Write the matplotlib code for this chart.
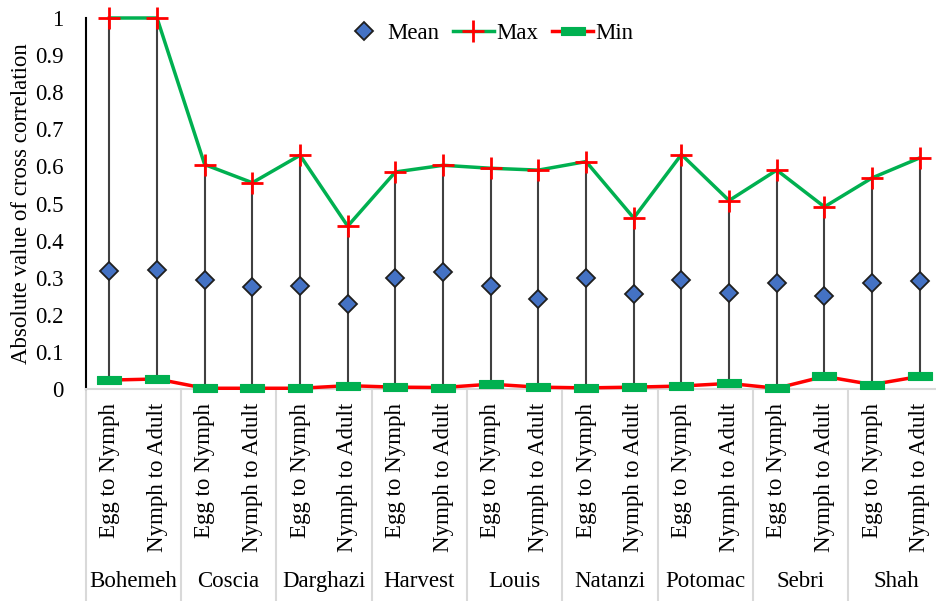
"""
Cross correlation (absolute value) per cultivar and life stage transition:
mean, max and min with high-low lines.
"""

import matplotlib
matplotlib.use("Agg")
import matplotlib.pyplot as plt
from matplotlib.lines import Line2D

plt.rcParams['font.family'] = ['Liberation Serif', 'DejaVu Serif']

groups = ["Bohemeh", "Coscia", "Darghazi", "Harvest", "Louis",
          "Natanzi", "Potomac", "Sebri", "Shah"]
stages = ["Egg to Nymph", "Nymph to Adult"]

mean_vals = [0.317, 0.320, 0.295, 0.274, 0.278, 0.229, 0.299, 0.315, 0.278,
             0.243, 0.299, 0.256, 0.293, 0.259, 0.286, 0.252, 0.286, 0.292]
max_vals = [1.000, 1.000, 0.605, 0.556, 0.630, 0.439, 0.585, 0.603, 0.595,
            0.590, 0.613, 0.461, 0.632, 0.508, 0.590, 0.491, 0.569, 0.623]
min_vals = [0.024, 0.027, 0.002, 0.002, 0.002, 0.009, 0.005, 0.004, 0.013,
            0.005, 0.003, 0.005, 0.008, 0.015, 0.002, 0.034, 0.012, 0.034]

FS = 16.5
labels = [s for g in groups for s in stages]
x = list(range(len(labels)))

fig = plt.figure(figsize=(9.36, 6.01), dpi=100)
ax = fig.add_axes([85.5 / 936, 1 - 389 / 601, (943.6 - 85.5) / 936, 371 / 601])

#high-low lines
ax.vlines(x, min_vals, max_vals, color='#404040', lw=1.5, zorder=2)

ax.plot(x, mean_vals, linestyle='none', marker='D', markersize=9.5,
        markerfacecolor='#4472C4', markeredgecolor='#1F1F1F',
        markeredgewidth=1.3, label='Mean', zorder=4, clip_on=False)
ax.plot(x, max_vals, color='#00B050', lw=2.5, marker='+', markersize=16,
        markeredgecolor='#FF0000', markeredgewidth=2, label='Max', zorder=3,
        clip_on=False)
dash = [(-1.5, -0.5), (1.5, -0.5), (1.5, 0.5), (-1.5, 0.5), (-1.5, -0.5)]
ax.plot(x, min_vals, color='#FF0000', lw=2.5, marker=dash, markersize=17,
        markerfacecolor='#00B050', markeredgecolor='#00B050',
        markeredgewidth=0.8, label='Min', zorder=3, clip_on=False)

ax.set_xlim(-0.5, len(labels) - 0.5)
ax.set_ylim(0, 1)
ax.set_yticks([i / 10 for i in range(11)])
ax.set_yticklabels(['{:g}'.format(i / 10) for i in range(11)], fontsize=FS)
ax.set_xticks(x)
ax.set_xticklabels(labels, rotation=90, fontsize=FS)
ax.tick_params(axis='both', length=0)
ax.tick_params(axis='y', pad=16)
ax.tick_params(axis='x', pad=10)

ax.spines['top'].set_visible(False)
ax.spines['right'].set_visible(False)
ax.spines['left'].set_color('black')
ax.spines['left'].set_linewidth(1.5)
ax.spines['bottom'].set_color('#D9D9D9')
ax.spines['bottom'].set_linewidth(1.5)

ax.set_ylabel('Absolute value of cross correlation', fontsize=FS)
ax.yaxis.set_label_coords(-0.062, 0.5)

#group labels and separators
trans = ax.get_xaxis_transform()
for i, g in enumerate(groups):
    ax.text(2 * i + 0.5, -0.52, g, transform=trans, ha='center', va='center',
            fontsize=FS)
for b in range(len(groups) + 1):
    ax.add_line(Line2D([2 * b - 0.5, 2 * b - 0.5], [0, -0.6], transform=trans,
                       color='#D9D9D9', lw=1.5, clip_on=False))

fig.legend(loc='center', bbox_to_anchor=(0.522, 0.945), ncol=3, frameon=False,
           fontsize=FS, handlelength=1.8, handletextpad=0.1,
           columnspacing=0.6)

fig.savefig('out.png', dpi=100)
